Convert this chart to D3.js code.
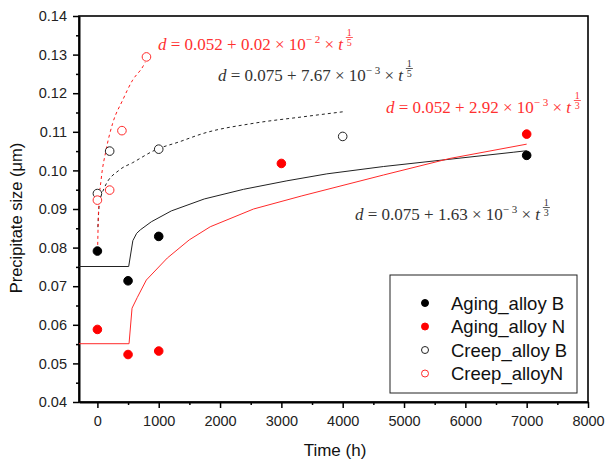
<!DOCTYPE html>
<html>
<head>
<meta charset="utf-8">
<script src="https://cdn.jsdelivr.net/npm/d3@7"></script>
<style>
  body { margin: 0; background: #fff; }
  svg { font-family: "Liberation Sans", Arial, sans-serif; }
</style>
</head>
<body>
<div id="chart"></div>
<script>
  // measured points
  var agingTimeB = [0, 500, 1000, 7000];
  var agingSizeB = [0.0791, 0.0714, 0.0829, 0.1039];
  var agingTimeN = [0, 500, 1000, 3000, 7000];
  var agingSizeN = [0.0588, 0.0523, 0.0532, 0.1018, 0.1094];
  var creepTimeB = [0, 200, 1000, 4000];
  var creepSizeB = [0.0940, 0.1050, 0.1055, 0.1088];
  var creepTimeN = [0, 200, 400, 800];
  var creepSizeN = [0.0923, 0.0949, 0.1103, 0.1294];

  // fitted curves
  var fitAgingBTime = [-300, 510, 578, 640, 700, 880, 1205, 1743, 2383, 3090, 3741, 4663, 5749, 6780, 7000];
  var fitAgingBSize = [0.0751, 0.0751, 0.0818, 0.0837, 0.0846, 0.0867, 0.0895, 0.0926, 0.0951, 0.0973, 0.0991, 0.1010, 0.1029, 0.1047, 0.1051];
  var fitAgingNTime = [-300, 516, 565, 651, 798, 1140, 1498, 1840, 2546, 3334, 4663, 5749, 7000];
  var fitAgingNSize = [0.0551, 0.0551, 0.0643, 0.0671, 0.0716, 0.0773, 0.0820, 0.0854, 0.0900, 0.0934, 0.0988, 0.1031, 0.1068];
  var fitCreepBTime = [8, 30, 114, 358, 575, 945, 1335, 1731, 2546, 3360, 4011];
  var fitCreepBSize = [0.0853, 0.0910, 0.0955, 0.1001, 0.1020, 0.1053, 0.1074, 0.1096, 0.1122, 0.1139, 0.1152];
  var fitCreepNTime = [5, 21, 60, 142, 249, 412, 575, 738, 780];
  var fitCreepNSize = [0.0807, 0.0906, 0.0975, 0.1053, 0.1122, 0.1182, 0.1234, 0.1268, 0.1280];

  var xTicks = [0, 1000, 2000, 3000, 4000, 5000, 6000, 7000, 8000];
  var yTicks = [0.04, 0.05, 0.06, 0.07, 0.08, 0.09, 0.10, 0.11, 0.12, 0.13, 0.14];

  var legendNames = ["Aging_alloy B", "Aging_alloy N", "Creep_alloy B", "Creep_alloyN"];

  var W = 606, H = 461;
  var margin = {top: 16, right: 18, bottom: 59, left: 79};
  var w = W - margin.left - margin.right, h = H - margin.top - margin.bottom;

  var svg = d3.select('#chart').append('svg').attr('width', W).attr('height', H);
  var g = svg.append('g').attr('transform', 'translate(' + margin.left + ',' + margin.top + ')');

  var x = d3.scaleLinear().domain([-300, 8000]).range([0, w]);
  var y = d3.scaleLinear().domain([0.04, 0.14]).range([h, 0]);

  function zip(a, b) { return a.map(function (v, i) { return [v, b[i]]; }); }

  // minor ticks
  var xMinor = d3.range(500, 8000, 1000);
  var yMinor = d3.range(0.045, 0.14, 0.01);
  g.append('g').attr('transform', 'translate(0,' + h + ')')
    .call(d3.axisBottom(x).tickValues(xMinor).tickSize(3).tickFormat(''))
    .call(s => s.select('.domain').remove())
    .selectAll('line').attr('stroke-width', 1.5);
  g.append('g')
    .call(d3.axisLeft(y).tickValues(yMinor).tickSize(3).tickFormat(''))
    .call(s => s.select('.domain').remove())
    .selectAll('line').attr('stroke-width', 1.5);

  var xAxis = g.append('g').attr('transform', 'translate(0,' + h + ')')
    .call(d3.axisBottom(x).tickValues(xTicks).tickSize(6).tickPadding(8).tickSizeOuter(0).tickFormat(d3.format('d')));
  var yAxis = g.append('g')
    .call(d3.axisLeft(y).tickValues(yTicks).tickSize(6).tickPadding(6).tickSizeOuter(0).tickFormat(d3.format('.2f')));
  [xAxis, yAxis].forEach(function (a) {
    a.selectAll('text').attr('font-size', 14.5).attr('fill', '#222')
      .attr('font-family', '"Liberation Sans", Arial, sans-serif');
    a.selectAll('line').attr('stroke-width', 1.5);
    a.select('.domain').attr('stroke-width', 2);
  });

  // frame
  g.append('rect').attr('width', w).attr('height', h)
    .attr('fill', 'none').attr('stroke', '#000').attr('stroke-width', 1.6);

  // fit lines
  var line = d3.line().x(d => x(d[0])).y(d => y(d[1]));
  var smooth = d3.line().x(d => x(d[0])).y(d => y(d[1])).curve(d3.curveMonotoneX);
  g.append('path').datum(zip(fitAgingBTime, fitAgingBSize)).attr('d', line)
    .attr('fill', 'none').attr('stroke', '#222').attr('stroke-width', 1);
  g.append('path').datum(zip(fitAgingNTime, fitAgingNSize)).attr('d', line)
    .attr('fill', 'none').attr('stroke', '#ff2a2a').attr('stroke-width', 1);
  g.append('path').datum(zip(fitCreepBTime, fitCreepBSize)).attr('d', smooth)
    .attr('fill', 'none').attr('stroke', '#222').attr('stroke-width', 1).attr('stroke-dasharray', '3,3');
  g.append('path').datum(zip(fitCreepNTime, fitCreepNSize)).attr('d', smooth)
    .attr('fill', 'none').attr('stroke', '#ff1a1a').attr('stroke-width', 1).attr('stroke-dasharray', '3,3');

  // points
  var series = [
    {data: zip(agingTimeB, agingSizeB), fill: '#000', stroke: '#000'},
    {data: zip(agingTimeN, agingSizeN), fill: '#ff0000', stroke: '#ff0000'},
    {data: zip(creepTimeB, creepSizeB), fill: '#fff', stroke: '#222'},
    {data: zip(creepTimeN, creepSizeN), fill: '#fff', stroke: '#ff2a2a'}
  ];
  series.forEach(function (s) {
    g.selectAll(null).data(s.data).enter().append('circle')
      .attr('cx', d => x(d[0])).attr('cy', d => y(d[1]))
      .attr('r', 4.3).attr('fill', s.fill).attr('stroke', s.stroke).attr('stroke-width', 1);
  });

  // equations
  function equation(px, py, color, head, expo, den) {
    var t = svg.append('text').attr('x', px).attr('y', py)
      .attr('font-family', '"Liberation Serif", "DejaVu Serif", serif')
      .attr('font-size', 17).attr('fill', color);
    t.append('tspan').attr('font-style', 'italic').text('d');
    t.append('tspan').text(' = ' + head + ' × 10');
    t.append('tspan').attr('font-size', 11).attr('dy', -7).text('− ' + expo);
    t.append('tspan').attr('dy', 7).text(' × ');
    t.append('tspan').attr('font-style', 'italic').text('t');
    var bb = t.node().getBBox();
    var fx = bb.x + bb.width + 5;
    svg.append('text').attr('x', fx).attr('y', py - 14).attr('text-anchor', 'middle')
      .attr('font-family', '"Liberation Serif", serif').attr('font-size', 10).attr('fill', color).text('1');
    svg.append('line').attr('x1', fx - 3.5).attr('x2', fx + 3.5).attr('y1', py - 12.5).attr('y2', py - 12.5)
      .attr('stroke', color).attr('stroke-width', 0.8);
    svg.append('text').attr('x', fx).attr('y', py - 4).attr('text-anchor', 'middle')
      .attr('font-family', '"Liberation Serif", serif').attr('font-size', 10).attr('fill', color).text(den);
  }
  equation(158, 50, '#ff3030', '0.052 + 0.02', '2', '5');
  equation(218, 81, '#333', '0.075 + 7.67', '3', '5');
  equation(386, 113, '#ff3030', '0.052 + 2.92', '3', '3');
  equation(355, 220, '#333', '0.075 + 1.63', '3', '3');

  // axis titles
  svg.append('text').attr('x', 335).attr('y', 456).attr('text-anchor', 'middle')
    .attr('font-size', 17).attr('fill', '#111').text('Time (h)');
  svg.append('text').attr('transform', 'translate(22,218) rotate(-90)').attr('text-anchor', 'middle')
    .attr('font-size', 16.5).attr('fill', '#111').text('Precipitate size (μm)');

  // legend
  var lg = svg.append('g').attr('transform', 'translate(390,275)');
  lg.append('rect').attr('width', 187).attr('height', 118)
    .attr('fill', '#fff').attr('stroke', '#222').attr('stroke-width', 1);
  legendNames.forEach(function (name, i) {
    var s = series[i];
    var yy = 28 + i * 23.5;
    lg.append('circle').attr('cx', 35).attr('cy', yy).attr('r', 3.5)
      .attr('fill', s.fill).attr('stroke', s.stroke).attr('stroke-width', 1);
    lg.append('text').attr('x', 61).attr('y', yy + 6.5).attr('font-size', 18.5).attr('fill', '#111').text(name);
  });
</script>
</body>
</html>
